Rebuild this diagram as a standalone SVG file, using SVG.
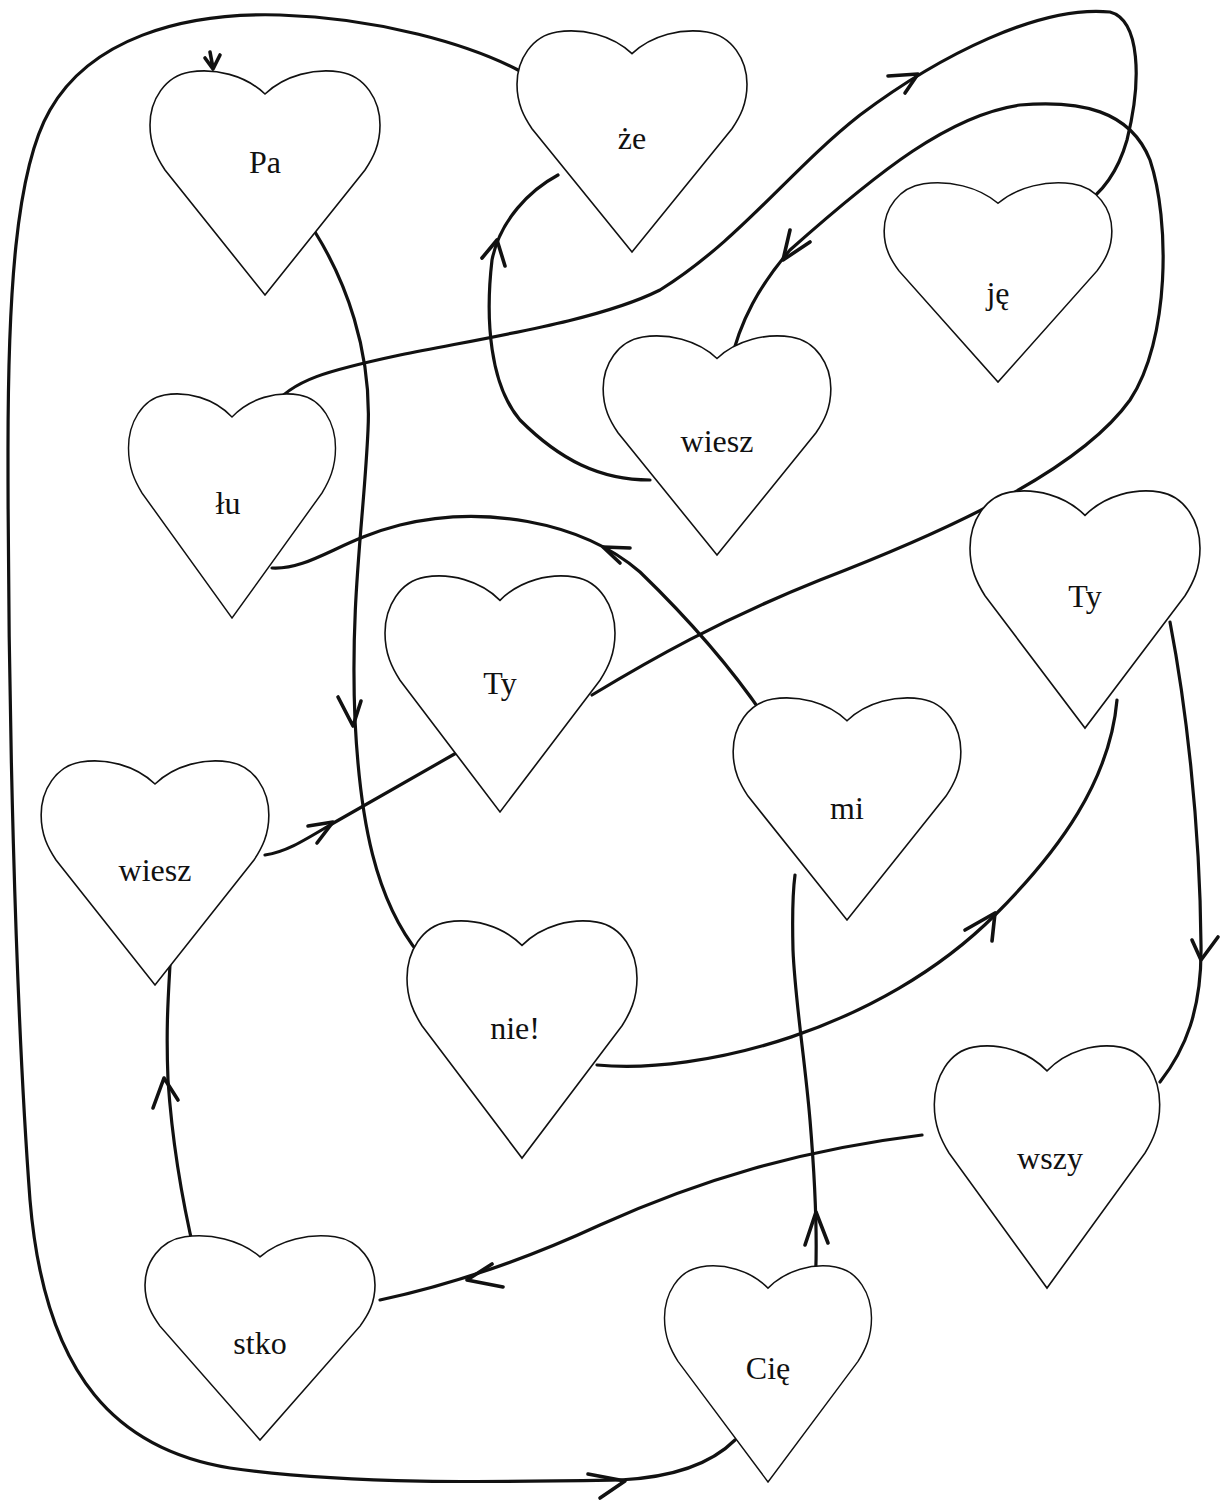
<svg xmlns="http://www.w3.org/2000/svg" width="1227" height="1510" viewBox="0 0 1227 1510">
<style>
.heart{fill:#fff;stroke:#111;stroke-width:1.6;stroke-linejoin:miter}
.lbl{font-family:"Liberation Serif","Times New Roman",serif;font-size:32px;fill:#111;text-anchor:middle}
.con{fill:none;stroke:#111;stroke-width:3.2;stroke-linecap:round;stroke-linejoin:round}
.arr{fill:none;stroke:#111;stroke-width:3.6;stroke-linecap:round;stroke-linejoin:round}
</style>
<defs>
<path id="h" d="M 0 24 C -20 5, -50 -2, -75 2 C -100 6, -115 30, -115 55 C -115 75, -108 88, -100 100 L 0 225 L 100 100 C 108 88, 115 75, 115 55 C 115 30, 100 6, 75 2 C 50 -2, 20 5, 0 24 Z"/>
</defs>
<rect width="1227" height="1510" fill="#fff"/>
<g id="connectors">
<path class="con" d="M 315 232 C 345 280, 372 350, 368 430 C 364 520, 350 600, 355 720 C 360 820, 375 900, 420 955"/>
<path class="arr" d="M 338 697 L 353 726 L 361 701"/>
<path class="con" d="M 597 1065 C 700 1075, 880 1030, 995 915 C 1060 850, 1110 780, 1117 700"/>
<path class="arr" d="M 965 930 L 995 913 L 992 941"/>
<path class="con" d="M 1170 622 C 1185 700, 1200 820, 1201 945 C 1202 1010, 1185 1050, 1160 1082"/>
<path class="arr" d="M 1192 940 L 1201 960 L 1218 937"/>
<path class="con" d="M 922 1135 C 800 1150, 700 1180, 600 1225 C 520 1262, 450 1285, 380 1300"/>
<path class="arr" d="M 492 1264 L 467 1280 L 503 1287"/>
<path class="con" d="M 195 1255 C 182 1200, 172 1140, 168 1080 C 166 1030, 168 1000, 170 965"/>
<path class="arr" d="M 153 1108 L 164 1078 L 178 1100"/>
<path class="con" d="M 265 855 C 285 852, 300 843, 330 825 L 458 752"/>
<path class="arr" d="M 308 826 L 333 822 L 317 843"/>
<path class="con" d="M 592 695 C 650 660, 720 620, 820 580 C 950 530, 1080 470, 1130 400 C 1170 340, 1170 220, 1150 160 C 1130 110, 1080 100, 1020 105 C 950 115, 880 170, 790 250 C 760 285, 740 320, 730 365"/>
<path class="arr" d="M 790 230 L 783 260 L 810 242"/>
<path class="con" d="M 272 408 C 290 380, 330 370, 400 355 C 500 335, 600 320, 660 290 C 740 240, 790 170, 860 115 C 940 55, 1040 5, 1110 12 C 1140 20, 1142 80, 1127 140 C 1117 175, 1100 195, 1080 207"/>
<path class="arr" d="M 888 76 L 918 74 L 905 93"/>
<path class="con" d="M 650 480 C 600 480, 560 460, 520 420 C 490 385, 485 320, 492 260 C 500 220, 530 190, 558 175"/>
<path class="arr" d="M 482 258 L 497 240 L 505 266"/>
<path class="con" d="M 518 70 C 470 45, 380 18, 280 15 C 180 12, 90 40, 50 110 C 15 170, 8 300, 8 450 C 8 700, 15 1000, 30 1200 C 45 1380, 120 1450, 230 1468 C 350 1485, 500 1482, 620 1480 C 680 1477, 715 1460, 735 1440"/>
<path class="arr" d="M 588 1474 L 625 1481 L 600 1498"/>
<path class="con" d="M 815 1287 C 818 1240, 815 1180, 810 1120 C 805 1060, 795 1000, 793 950 C 792 910, 793 890, 795 875"/>
<path class="arr" d="M 805 1245 L 816 1212 L 828 1243"/>
<path class="con" d="M 768 722 C 740 680, 700 630, 640 572 C 580 520, 480 505, 400 525 C 340 540, 310 570, 272 568"/>
<path class="arr" d="M 630 548 L 603 547 L 620 563"/>
<path class="arr" d="M 210 52 L 213 68 M 205 58 L 213 69 L 220 55"/>
</g>
<g id="n-pa"><use href="#h" class="heart" transform="translate(265,70)"/><text class="lbl" x="265" y="173">Pa</text></g>
<g id="n-ze"><use href="#h" class="heart" transform="translate(632,30) scale(1,0.987)"/><text class="lbl" x="632" y="149">że</text></g>
<g id="n-je"><use href="#h" class="heart" transform="translate(998,182) scale(0.99,0.889)"/><text class="lbl" x="998" y="304">ję</text></g>
<g id="n-wiesz1"><use href="#h" class="heart" transform="translate(717,335) scale(0.99,0.978)"/><text class="lbl" x="717" y="452">wiesz</text></g>
<g id="n-lu"><use href="#h" class="heart" transform="translate(232,393) scale(0.9,1)"/><text class="lbl" x="228" y="514">łu</text></g>
<g id="n-ty2"><use href="#h" class="heart" transform="translate(1085,490) scale(1,1.058)"/><text class="lbl" x="1085" y="607">Ty</text></g>
<g id="n-ty1"><use href="#h" class="heart" transform="translate(500,575) scale(1,1.053)"/><text class="lbl" x="500" y="694">Ty</text></g>
<g id="n-mi"><use href="#h" class="heart" transform="translate(847,697) scale(0.99,0.991)"/><text class="lbl" x="847" y="819">mi</text></g>
<g id="n-wiesz2"><use href="#h" class="heart" transform="translate(155,760) scale(0.99,1)"/><text class="lbl" x="155" y="881">wiesz</text></g>
<g id="n-nie"><use href="#h" class="heart" transform="translate(522,920) scale(1,1.058)"/><text class="lbl" x="515" y="1039">nie!</text></g>
<g id="n-wszy"><use href="#h" class="heart" transform="translate(1047,1045) scale(0.98,1.08)"/><text class="lbl" x="1050" y="1169">wszy</text></g>
<g id="n-stko"><use href="#h" class="heart" transform="translate(260,1235) scale(1,0.911)"/><text class="lbl" x="260" y="1354">stko</text></g>
<g id="n-cie"><use href="#h" class="heart" transform="translate(768,1265) scale(0.9,0.964)"/><text class="lbl" x="768" y="1379">Cię</text></g>
</svg>
